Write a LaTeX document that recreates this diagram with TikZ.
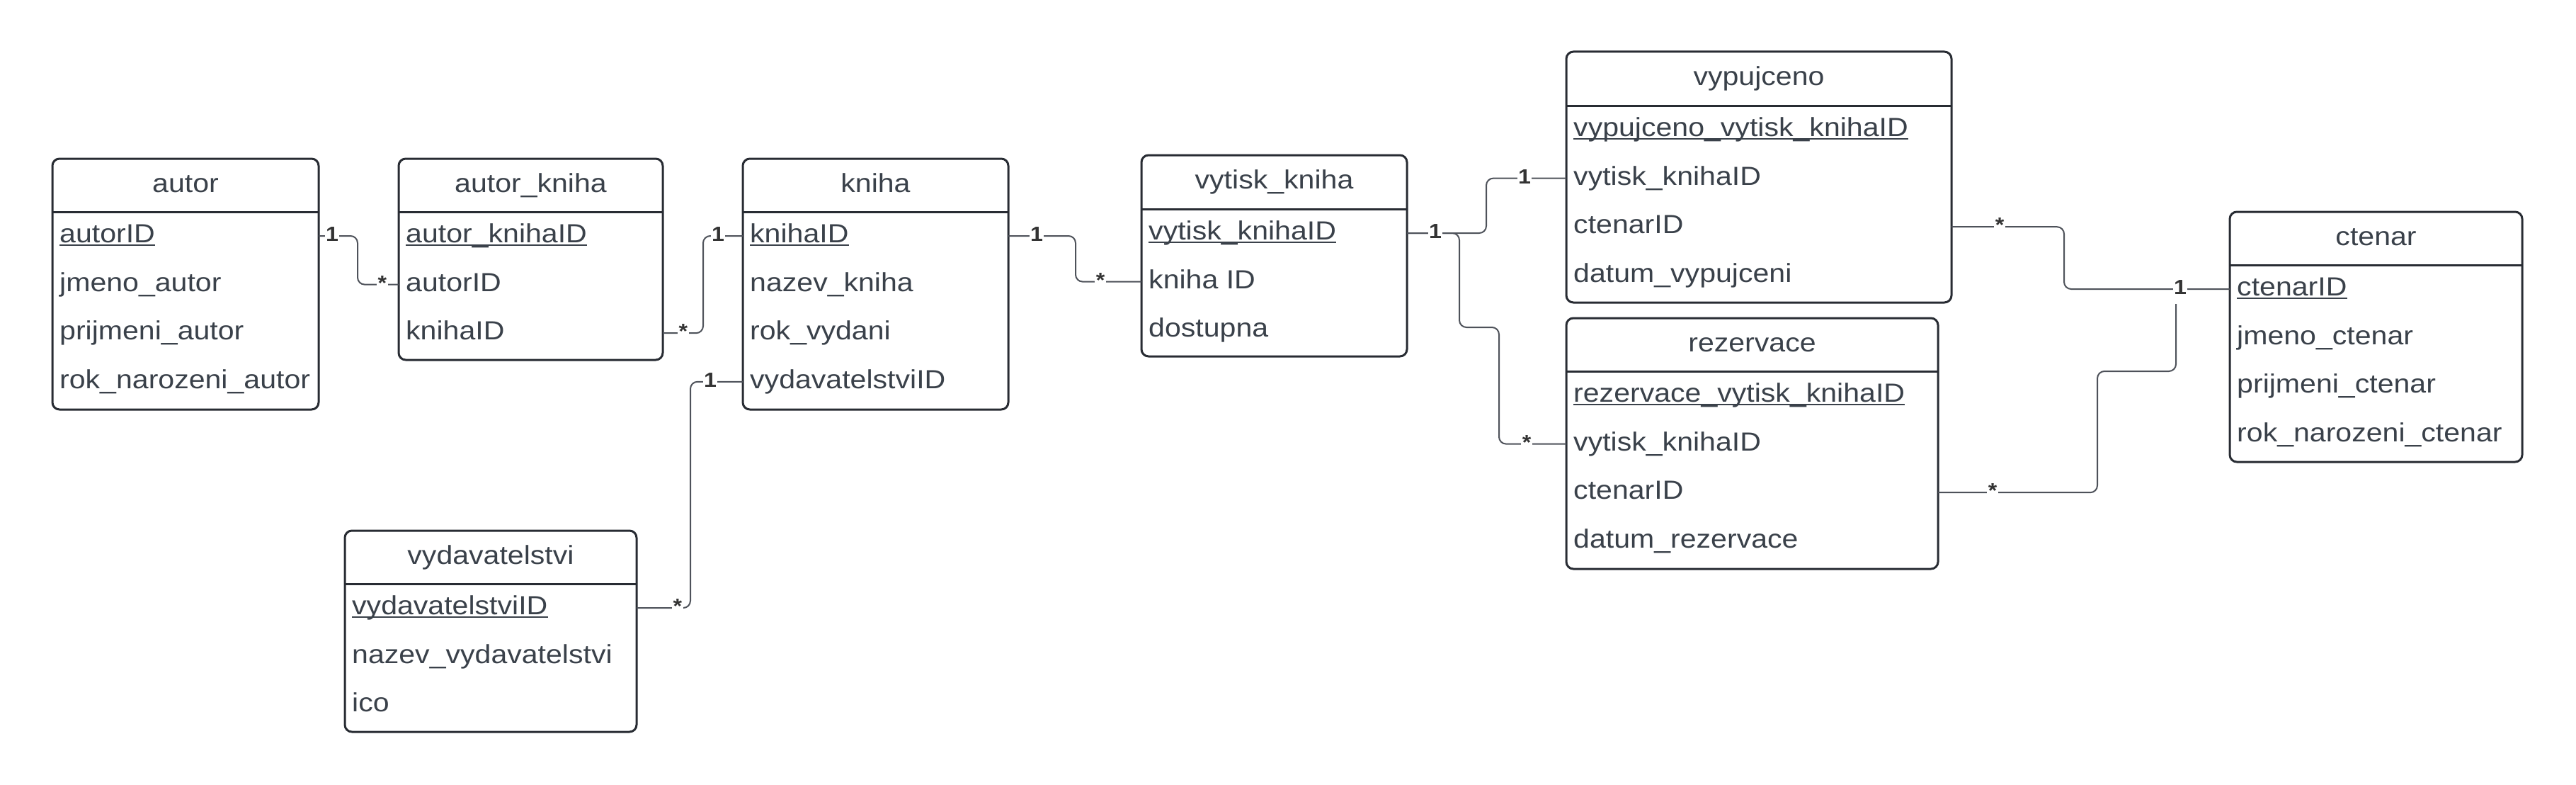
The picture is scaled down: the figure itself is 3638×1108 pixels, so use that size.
\documentclass[tikz,border=0pt]{standalone}
\usepackage{fontspec}
\setmainfont{Liberation Sans}[FakeStretch=1.11]
\definecolor{txtc}{HTML}{3A414A}
\definecolor{borderc}{HTML}{282C33}
\definecolor{connc}{HTML}{4E525A}
\definecolor{lblc}{HTML}{333333}
\newcommand\entity[7]{%
  \def\eleft{#2}\def\esep{#5}%
  \node[ebox, anchor=north west, minimum width={(#3-#2)*1pt}, minimum height={(#6-#4)*1pt}] (#1) at (#2,#4) {};
  \draw[esep] (#1.west |- 0,#5) -- (#1.east |- 0,#5);
  \node[etitle] (#1-t) at ({(#2+#3)/2},{(#4+#5)/2}) {#7};
}
\newcommand\erow[3]{%
  \node[erow] (#1-r#2) at ({\eleft+10},{\esep+34+68.6*#2}) {#3};
}
\newcommand\ekey[2]{%
  \erow{#1}{0}{#2}
  \draw[uline] ([yshift=-3.5pt]#1-r0.base west) -- ([yshift=-3.5pt]#1-r0.base east);
}
\begin{document}
\begin{tikzpicture}[x=1pt,y=-1pt,
  ebox/.style={rectangle, draw=borderc, line width=3pt, rounded corners=10pt, fill=white, inner sep=0pt, outer sep=0pt},
  esep/.style={draw=borderc, line width=3pt},
  etitle/.style={font=\fontsize{37pt}{44pt}\selectfont, text=txtc, inner sep=0pt, text height=26.6pt, text depth=7.4pt},
  erow/.style={font=\fontsize{37pt}{44pt}\selectfont, text=txtc, inner sep=0pt, anchor=west, text height=26.6pt, text depth=7.4pt},
  uline/.style={draw=txtc, line width=2.5pt},
  conn/.style={draw=connc, line width=2pt, rounded corners=10pt},
  lbl/.style={font=\fontsize{29pt}{35pt}\selectfont\bfseries, text=lblc, fill=white, inner xsep=1.5pt, inner ysep=0pt, text height=20.9pt, text depth=5.8pt}
]
\useasboundingbox (0,0) rectangle (3638,1108);
\fill[white] (0,0) rectangle (3638,1108);

% entities
\entity{autor}{74}{450}{224}{299}{578}{autor}
\ekey{autor}{autorID}
\erow{autor}{1}{jmeno\_autor}
\erow{autor}{2}{prijmeni\_autor}
\erow{autor}{3}{rok\_narozeni\_autor}

\entity{autorkniha}{563}{936}{224}{299}{508}{autor\_kniha}
\ekey{autorkniha}{autor\_knihaID}
\erow{autorkniha}{1}{autorID}
\erow{autorkniha}{2}{knihaID}

\entity{kniha}{1049}{1424}{224}{299}{578}{kniha}
\ekey{kniha}{knihaID}
\erow{kniha}{1}{nazev\_kniha}
\erow{kniha}{2}{rok\_vydani}
\erow{kniha}{3}{vydavatelstviID}

\entity{vytisk}{1612}{1987}{219}{295}{503}{vytisk\_kniha}
\ekey{vytisk}{vytisk\_knihaID}
\erow{vytisk}{1}{kniha ID}
\erow{vytisk}{2}{dostupna}

\entity{vypujceno}{2212}{2756}{73}{149}{427}{vypujceno}
\ekey{vypujceno}{vypujceno\_vytisk\_knihaID}
\erow{vypujceno}{1}{vytisk\_knihaID}
\erow{vypujceno}{2}{ctenarID}
\erow{vypujceno}{3}{datum\_vypujceni}

\entity{rezervace}{2212}{2737}{449}{524}{803}{rezervace}
\ekey{rezervace}{rezervace\_vytisk\_knihaID}
\erow{rezervace}{1}{vytisk\_knihaID}
\erow{rezervace}{2}{ctenarID}
\erow{rezervace}{3}{datum\_rezervace}

\entity{ctenar}{3149}{3562}{299}{374}{652}{ctenar}
\ekey{ctenar}{ctenarID}
\erow{ctenar}{1}{jmeno\_ctenar}
\erow{ctenar}{2}{prijmeni\_ctenar}
\erow{ctenar}{3}{rok\_narozeni\_ctenar}

\entity{vydavatelstvi}{487}{899}{749}{824}{1033}{vydavatelstvi}
\ekey{vydavatelstvi}{vydavatelstviID}
\erow{vydavatelstvi}{1}{nazev\_vydavatelstvi}
\erow{vydavatelstvi}{2}{ico}

% connectors
\draw[conn] (autor.east |- autor-r0) -| (505,370) |- (autorkniha.west |- autorkniha-r1);
\draw[conn] (autorkniha.east |- autorkniha-r2) -| (993,400) |- (kniha.west |- kniha-r0);
\draw[conn] (kniha.east |- kniha-r0) -| (1519,360) |- (vytisk.west |- vytisk-r1);
\draw[conn] (kniha.west |- kniha-r3) -| (975,700) |- (vydavatelstvi.east |- vydavatelstvi-r0);
\draw[conn] (vytisk.east |- vytisk-r0) -| (2099,290) |- (vypujceno.west |- vypujceno-r1);
\draw[conn] (vytisk.east |- vytisk-r0) -| (2061,400) |- (2117,462) |- (rezervace.west |- rezervace-r1);
\draw[conn] (vypujceno.east |- vypujceno-r2) -| (2915,360) |- (ctenar.west |- ctenar-r0);
\coordinate (rzend) at (3073,429);
\draw[conn] (rezervace.east |- rezervace-r2) -| (2962,600) |- (rzend |- 0,524) -- (rzend);

% multiplicity labels
\node[lbl] (m1a) at (469,0 |- autor-r0) {1};
\node[lbl] (m1b) at (540,0 |- autorkniha-r1) {*};
\node[lbl] (m2a) at (965,0 |- autorkniha-r2) {*};
\node[lbl] (m2b) at (1014,0 |- kniha-r0) {1};
\node[lbl] (m3a) at (1464,0 |- kniha-r0) {1};
\node[lbl] (m3b) at (1554,0 |- vytisk-r1) {*};
\node[lbl] (m4a) at (1003,0 |- kniha-r3) {1};
\node[lbl] (m4b) at (957,0 |- vydavatelstvi-r0) {*};
\node[lbl] (m5a) at (2027,0 |- vytisk-r0) {1};
\node[lbl] (m5b) at (2153,0 |- vypujceno-r1) {1};
\node[lbl] (m6b) at (2156,0 |- rezervace-r1) {*};
\node[lbl] (m7a) at (2824,0 |- vypujceno-r2) {*};
\node[lbl] (m7b) at (3079,0 |- ctenar-r0) {1};
\node[lbl] (m8a) at (2814,0 |- rezervace-r2) {*};
\end{tikzpicture}
\end{document}
